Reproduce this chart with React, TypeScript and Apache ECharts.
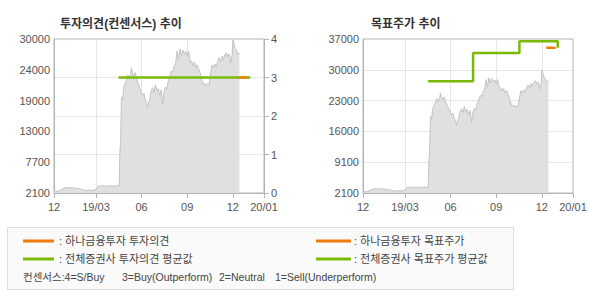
import React, { useEffect, useRef } from 'react';
import * as echarts from 'echarts';

// x axis: trading-day index
const X_MIN = 0;
const X_MAX = 290;
const X_TICKS = [0, 58, 121, 184, 247, 290];
const X_LABELS = ['12', '19/03', '06', '09', '12', '20/01'];

// left chart (opinion) price axis labels
const OP_PRICE_MIN = 2100;
const OP_PRICE_MAX = 30000;
const OP_PRICE_LABELS = ['2100', '7700', '13000', '19000', '24000', '30000'];
const OPINION_LABELS = ['0', '1', '2', '3', '4'];

// right chart (target price) axis labels
const TP_MIN = 2100;
const TP_MAX = 37000;
const TP_LABELS = ['2100', '9100', '16000', '23000', '30000', '37000'];

// stock price
const PRICE_DAYS = [
  0, 2, 4, 6, 8, 10, 12, 14, 16, 18, 20, 22, 24, 26, 28, 30, 32, 34, 36, 38, 40, 42, 44, 46, 48, 50,
  52, 54, 56, 58, 60, 62, 64, 66, 68, 70, 72, 74, 76, 78, 80, 82, 84, 86, 88, 90, 91, 92, 93, 94,
  95, 96, 98, 100, 102, 104, 106, 107, 108, 110, 112, 114, 116, 118, 120, 122, 124, 126, 128, 129,
  130, 132, 134, 136, 138, 140, 142, 144, 146, 148, 149, 150, 152, 154, 156, 158, 160, 162, 164,
  166, 168, 170, 172, 174, 176, 178, 180, 182, 184, 186, 188, 190, 192, 194, 196, 198, 200, 202,
  204, 206, 208, 210, 212, 214, 216, 218, 220, 222, 224, 226, 228, 230, 232, 234, 236, 238, 240,
  242, 244, 246, 247, 248, 250, 252, 254, 256,
];
const PRICE = [
  2500, 2350, 2450, 2400, 2600, 2700, 2900, 3000, 3050, 3100, 3000, 3100, 3050, 3000, 3050, 2950,
  2900, 2950, 2850, 2750, 2700, 2650, 2600, 2500, 2600, 2650, 2600, 2550, 2700, 2750, 3200, 3400,
  3300, 3500, 3400, 3350, 3300, 3400, 3450, 3400, 3350, 3400, 3450, 3400, 3450, 3450, 9500, 11500,
  18500, 19500, 19000, 21000, 22000, 22500, 23500, 22800, 23800, 24800, 24000, 23200, 23900, 22800,
  22000, 21300, 20500, 19800, 20200, 19000, 18500, 17500, 18000, 19000, 20500, 21200, 20300, 21700,
  20600, 21000, 19800, 20800, 19500, 18100, 20500, 21300, 21000, 22500, 23200, 24200, 24000, 25000,
  25600, 27800, 26200, 28200, 27000, 28000, 27300, 27700, 26800, 27800, 25800, 26000, 25200, 25800,
  24800, 25300, 24500, 23800, 22500, 21800, 22000, 21500, 21900, 21600, 23500, 25300, 24800, 25500,
  24900, 26000, 26600, 25800, 26900, 26300, 27200, 27500, 26800, 27300, 25700, 27000, 29900, 29500,
  28300, 28000, 27200, 27500,
];

// investment opinion (consensus)
const CONS_AVG_DAYS = [89, 271];
const CONS_AVG = [3, 3];
const HANA_OP_DAYS = [255, 266];
const HANA_OP = [3, 3];

// target price
const TP_AVG_DAYS = [90, 152, 152, 216, 216, 269, 269];
const TP_AVG = [27400, 27400, 33800, 33800, 36500, 36500, 35000];
const HANA_TP_DAYS = [253, 266];
const HANA_TP = [35000, 35000];

const GREEN = '#7cb907';
const ORANGE = '#f07c0c';
const FONT = '"Liberation Sans", "Noto Sans CJK KR", sans-serif';
const LABEL_COLOR = '#555';
const AXIS_COLOR = '#b4b4b4';
const GRID_COLOR = '#e6e6e6';

const zip = (xs: number[], ys: number[]) => xs.map((x, i) => [x, ys[i]]);
const evenTicks = (min: number, max: number, n: number) =>
  Array.from({ length: n }, (_, i) => min + (i * (max - min)) / (n - 1));

export default function App() {
  const ref = useRef<HTMLDivElement>(null);

  useEffect(() => {
    if (!ref.current) return;
    const chart = echarts.init(ref.current, undefined, { renderer: 'svg' });

    const opTicks = evenTicks(OP_PRICE_MIN, OP_PRICE_MAX, OP_PRICE_LABELS.length);
    const tpTicks = evenTicks(TP_MIN, TP_MAX, TP_LABELS.length);
    const labelOf = (ticks: number[], labels: string[]) => (v: number) => {
      const i = ticks.findIndex((t) => Math.abs(t - v) < 1);
      return i >= 0 ? labels[i] : '';
    };

    const xAxisBase = (gridIndex: number) => ({
      type: 'value',
      gridIndex,
      min: X_MIN,
      max: X_MAX,
      axisLine: { show: true, lineStyle: { color: AXIS_COLOR, width: 1 } },
      axisTick: {
        show: true,
        length: 5,
        lineStyle: { color: AXIS_COLOR },
        customValues: X_TICKS,
      },
      axisLabel: {
        customValues: X_TICKS,
        formatter: labelOf(X_TICKS, X_LABELS),
        color: LABEL_COLOR,
        fontSize: 11,
        fontFamily: FONT,
        margin: 8,
      },
      splitLine: { show: true, showMinLine: false, showMaxLine: false, lineStyle: { color: GRID_COLOR, width: 1 } },
    });

    const areaSeries = (xi: number, yi: number) => ({
      type: 'line',
      xAxisIndex: xi,
      yAxisIndex: yi,
      data: zip(PRICE_DAYS, PRICE),
      showSymbol: false,
      symbol: 'none',
      lineStyle: { color: '#c2c2c2', width: 1 },
      areaStyle: { color: '#e0e0e0', opacity: 1, origin: 'start' },
      z: 1,
    });

    const lineSeries = (xi: number, yi: number, xs: number[], ys: number[], color: string, z: number) => ({
      type: 'line',
      xAxisIndex: xi,
      yAxisIndex: yi,
      data: zip(xs, ys),
      showSymbol: false,
      symbol: 'none',
      lineStyle: { color, width: 2.5 },
      z,
    });

    const textStyle = { fill: '#444', fontSize: 11, fontFamily: FONT };
    const smallText = { fill: '#444', fontSize: 10.5, fontFamily: FONT };

    chart.setOption({
      animation: false,
      title: [
        {
          text: '투자의견(컨센서스) 추이',
          left: 55,
          top: 13,
          textStyle: { fontSize: 12, fontWeight: 'bold', color: '#333', fontFamily: FONT },
        },
        {
          text: '목표주가 추이',
          left: 366,
          top: 13,
          textStyle: { fontSize: 12, fontWeight: 'bold', color: '#333', fontFamily: FONT },
        },
      ],
      grid: [
        { left: 54, right: 326, top: 39, bottom: 107, show: true, borderColor: AXIS_COLOR, borderWidth: 1, backgroundColor: 'transparent' },
        { left: 363, right: 17, top: 39, bottom: 107, show: true, borderColor: AXIS_COLOR, borderWidth: 1, backgroundColor: 'transparent' },
      ],
      xAxis: [xAxisBase(0), xAxisBase(1)],
      yAxis: [
        {
          type: 'value',
          gridIndex: 0,
          min: OP_PRICE_MIN,
          max: OP_PRICE_MAX,
          axisLine: { show: true, lineStyle: { color: AXIS_COLOR } },
          axisTick: { show: false, customValues: opTicks },
          axisLabel: {
            customValues: opTicks,
            formatter: labelOf(opTicks, OP_PRICE_LABELS),
            color: LABEL_COLOR,
            fontSize: 11,
            fontFamily: FONT,
            margin: 4,
          },
          splitLine: { show: false },
        },
        {
          type: 'value',
          gridIndex: 0,
          position: 'right',
          min: 0,
          max: 4,
          interval: 1,
          axisLine: { show: true, lineStyle: { color: AXIS_COLOR } },
          axisTick: { show: true, length: 5, lineStyle: { color: AXIS_COLOR } },
          axisLabel: {
            formatter: (v: number) => OPINION_LABELS[Math.round(v)],
            color: LABEL_COLOR,
            fontSize: 11,
            fontFamily: FONT,
            margin: 7,
          },
          splitLine: { show: true, showMinLine: false, showMaxLine: false, lineStyle: { color: GRID_COLOR, width: 1 } },
        },
        {
          type: 'value',
          gridIndex: 1,
          min: TP_MIN,
          max: TP_MAX,
          axisLine: { show: true, lineStyle: { color: AXIS_COLOR } },
          axisTick: { show: false, customValues: tpTicks },
          axisLabel: {
            customValues: tpTicks,
            formatter: labelOf(tpTicks, TP_LABELS),
            color: LABEL_COLOR,
            fontSize: 11,
            fontFamily: FONT,
            margin: 4,
          },
          splitLine: { show: true, showMinLine: false, showMaxLine: false, lineStyle: { color: GRID_COLOR, width: 1 } },
        },
      ],
      series: [
        areaSeries(0, 0),
        lineSeries(0, 1, CONS_AVG_DAYS, CONS_AVG, GREEN, 3),
        lineSeries(0, 1, HANA_OP_DAYS, HANA_OP, ORANGE, 4),
        areaSeries(1, 2),
        lineSeries(1, 2, TP_AVG_DAYS, TP_AVG, GREEN, 3),
        lineSeries(1, 2, HANA_TP_DAYS, HANA_TP, ORANGE, 4),
      ],
      graphic: [
        {
          type: 'rect',
          shape: { x: 7.5, y: 227.5, width: 506, height: 62 },
          style: { fill: '#fafafa', stroke: '#dcdcdc', lineWidth: 1 },
          z: 0,
        },
        { type: 'line', shape: { x1: 23, y1: 241, x2: 54, y2: 241 }, style: { stroke: ORANGE, lineWidth: 3 } },
        { type: 'text', x: 59, y: 241, style: { ...textStyle, text: ': 하나금융투자 투자의견', verticalAlign: 'middle' } },
        { type: 'line', shape: { x1: 23, y1: 259, x2: 54, y2: 259 }, style: { stroke: GREEN, lineWidth: 3 } },
        { type: 'text', x: 59, y: 259, style: { ...textStyle, text: ': 전체증권사 투자의견 평균값', verticalAlign: 'middle' } },
        { type: 'line', shape: { x1: 316, y1: 241, x2: 351, y2: 241 }, style: { stroke: ORANGE, lineWidth: 3 } },
        { type: 'text', x: 354, y: 241, style: { ...textStyle, text: ': 하나금융투자 목표주가', verticalAlign: 'middle' } },
        { type: 'line', shape: { x1: 316, y1: 259, x2: 351, y2: 259 }, style: { stroke: GREEN, lineWidth: 3 } },
        { type: 'text', x: 354, y: 259, style: { ...textStyle, text: ': 전체증권사 목표주가 평균값', verticalAlign: 'middle' } },
        { type: 'text', x: 23, y: 277, style: { ...smallText, text: '컨센서스:4=S/Buy', verticalAlign: 'middle' } },
        { type: 'text', x: 122, y: 277, style: { ...smallText, text: '3=Buy(Outperform)', verticalAlign: 'middle' } },
        { type: 'text', x: 219, y: 277, style: { ...smallText, text: '2=Neutral', verticalAlign: 'middle' } },
        { type: 'text', x: 275, y: 277, style: { ...smallText, text: '1=Sell(Underperform)', verticalAlign: 'middle' } },
      ],
    });

    return () => chart.dispose();
  }, []);

  return (
    <div
      ref={ref}
      style={{ position: 'fixed', left: 0, top: 0, width: 590, height: 300, background: '#fff' }}
    />
  );
}
